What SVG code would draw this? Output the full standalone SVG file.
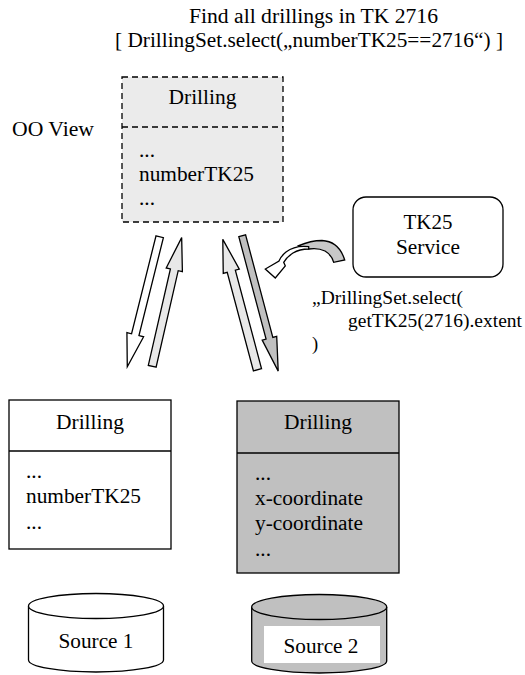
<svg xmlns="http://www.w3.org/2000/svg" width="525" height="675" viewBox="0 0 525 675">
<style>
text{font-family:'Liberation Serif','Times New Roman',Times,'Noto Serif','DejaVu Serif','Liberation Sans',serif;font-size:20px;fill:#000;lengthAdjust:spacingAndGlyphs}
.c{text-anchor:middle}
.s{font-size:18.5px}
.box{stroke:#000;stroke-width:1.3}
.arr{stroke:#000;stroke-width:1.3;stroke-linejoin:miter}
</style>
<rect width="525" height="675" fill="#fff"/>
<g id="title">
<text class="c" x="313.5" y="23" textLength="249" lengthAdjust="spacingAndGlyphs">Find all drillings in TK 2716</text>
<text class="c" x="309" y="47" textLength="388" lengthAdjust="spacingAndGlyphs">[ DrillingSet.select(„numberTK25==2716“) ]</text>
</g>
<g id="oo-label"><text x="12" y="136" textLength="82" lengthAdjust="spacingAndGlyphs">OO View</text></g>
<g id="oo-drilling">
<rect x="122" y="77" width="161" height="145" fill="#ebebeb" stroke="#000" stroke-width="1.3" stroke-dasharray="6,4"/>
<line x1="122" y1="127" x2="283" y2="127" stroke="#000" stroke-width="1.3" stroke-dasharray="6,4"/>
<text class="c" x="202.5" y="104" textLength="68" lengthAdjust="spacingAndGlyphs">Drilling</text>
<text x="139" y="157" textLength="16" lengthAdjust="spacingAndGlyphs">...</text>
<text x="139" y="181" textLength="115" lengthAdjust="spacingAndGlyphs">numberTK25</text>
<text x="139" y="205" textLength="16" lengthAdjust="spacingAndGlyphs">...</text>
</g>
<g id="tk25-service">
<rect class="box" x="353" y="197" width="150" height="80" rx="13" fill="#fff"/>
<text class="c" x="428" y="229" textLength="49" lengthAdjust="spacingAndGlyphs">TK25</text>
<text class="c" x="428" y="254" textLength="64" lengthAdjust="spacingAndGlyphs">Service</text>
</g>
<g id="call-label">
<text class="s" x="312" y="304" textLength="151" lengthAdjust="spacingAndGlyphs">„DrillingSet.select(</text>
<text class="s" x="348" y="327" textLength="174" lengthAdjust="spacingAndGlyphs">getTK25(2716).extent</text>
<text class="s" x="312" y="350">)</text>
</g>
<g id="connectors">
<g transform="translate(159.7,236.7) rotate(14)"><polygon class="arr" fill="#fff" points="-3.8,0 3.8,0 3.8,101 8.6,101 0,134 -8.6,101 -3.8,101"/></g>
<g transform="translate(152.2,366.3) rotate(192.9)"><polygon class="arr" fill="#e8e8e8" points="-4,0 4,0 4,99 8.3,99 0,132 -8.3,99 -4,99"/></g>
<g transform="translate(257.5,369.8) rotate(165.1)"><polygon class="arr" fill="#e8e8e8" points="-4.2,0 4.2,0 4.2,102 8.3,102 0,135 -8.3,102 -4.2,102"/></g>
<g transform="translate(242.2,235.8) rotate(-14.9)"><polygon class="arr" fill="#c0c0c0" points="-3.5,0 3.5,0 3.5,106 7.5,106 0,140 -7.5,106 -3.5,106"/></g>
<path class="arr" fill="#c8c8c8" d="M344.7,260 C341,248 333,241 322,240.5 C313,240.5 305,243 298.7,245.7 L308.7,249 C315,248 320,248.5 325,251 C330,254 332.5,258 333.7,262.3 Z"/>
<path class="arr" fill="#fff" d="M308.7,246.7 C300,245.5 292,247.5 286,252 C282.5,255 280,258 279,261 L265.3,269 L275.3,278 L285.3,266 L283.7,262.3 C286,258.5 289,255.5 293,253 C298,250 303,249 308.7,249 Z"/>
</g>
<g id="source1-drilling">
<rect class="box" x="9" y="400" width="162" height="149" fill="#fff"/>
<line class="box" x1="9" y1="451" x2="171" y2="451"/>
<text class="c" x="90" y="429" textLength="68" lengthAdjust="spacingAndGlyphs">Drilling</text>
<text x="26" y="478" textLength="16" lengthAdjust="spacingAndGlyphs">...</text>
<text x="26" y="503" textLength="115" lengthAdjust="spacingAndGlyphs">numberTK25</text>
<text x="26" y="529" textLength="16" lengthAdjust="spacingAndGlyphs">...</text>
</g>
<g id="source2-drilling">
<rect class="box" x="237" y="401" width="162" height="172" fill="#c0c0c0"/>
<line class="box" x1="237" y1="453" x2="399" y2="453"/>
<text class="c" x="318" y="429" textLength="68" lengthAdjust="spacingAndGlyphs">Drilling</text>
<text x="255" y="480" textLength="16" lengthAdjust="spacingAndGlyphs">...</text>
<text x="255" y="505" textLength="108" lengthAdjust="spacingAndGlyphs">x-coordinate</text>
<text x="255" y="530" textLength="108" lengthAdjust="spacingAndGlyphs">y-coordinate</text>
<text x="255" y="556" textLength="16" lengthAdjust="spacingAndGlyphs">...</text>
</g>
<g id="source1">
<path class="box" fill="#fff" d="M28.5,606 L28.5,660 A67.5,12 0 0 0 163.5,660 L163.5,606"/>
<ellipse class="box" cx="96" cy="606" rx="67.5" ry="12.5" fill="#fff"/>
<text class="c" x="96" y="648" textLength="75" lengthAdjust="spacingAndGlyphs">Source 1</text>
</g>
<g id="source2">
<path class="box" fill="#c0c0c0" d="M251.7,607 L251.7,661 A67.5,12 0 0 0 386.7,661 L386.7,607"/>
<ellipse class="box" cx="319.2" cy="607" rx="67.5" ry="12.5" fill="#c0c0c0"/>
<rect x="264" y="626" width="116" height="37" fill="#fff"/>
<text class="c" x="321" y="653" textLength="75" lengthAdjust="spacingAndGlyphs">Source 2</text>
</g>
</svg>
